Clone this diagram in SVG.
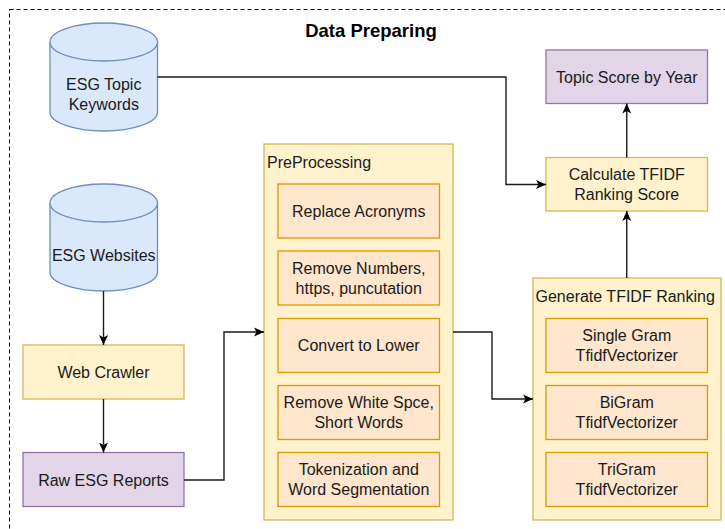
<svg xmlns="http://www.w3.org/2000/svg" width="725" height="529" viewBox="0 0 725 529">
<style>
  text { font-family: "Liberation Sans", Arial, Helvetica, sans-serif; font-size: 16px; fill: #1a1a1a; }
  .c { text-anchor: middle; }
  .title { font-size: 18.5px; font-weight: bold; fill: #000; }
  .cyl { fill: #dae8fc; stroke: #6c8ebf; stroke-width: 1.3; }
  .yel { fill: #fff2cc; stroke: #d6b656; stroke-width: 1.3; }
  .org { fill: #ffe6cc; stroke: #d79b00; stroke-width: 1.3; }
  .pur { fill: #e1d5e7; stroke: #9673a6; stroke-width: 1.3; }
  .edge { fill: none; stroke: #1a1a1a; stroke-width: 1.4; marker-end: url(#arr); }
</style>
<defs>
  <marker id="arr" markerUnits="userSpaceOnUse" markerWidth="11" markerHeight="10" refX="10" refY="5" orient="auto">
    <path d="M0,0.5 L10,5 L0,9.5 L2.5,5 Z" fill="#000"/>
  </marker>
</defs>
<rect x="9.5" y="9.5" width="760" height="560" fill="none" stroke="#000" stroke-width="1" stroke-dasharray="4,3"/>
<text class="title c" x="371" y="37">Data Preparing</text>

<g id="esg-topic-keywords">
  <path class="cyl" d="M50,42 A53.75,19 0 0 1 157.5,42 V112 A53.75,19 0 0 1 50,112 Z"/>
  <path class="cyl" fill="none" d="M50,42 A53.75,19 0 0 0 157.5,42"/>
  <text class="c" x="103.75" y="89.5">ESG Topic</text>
  <text class="c" x="103.75" y="109.5">Keywords</text>
</g>
<g id="esg-websites">
  <path class="cyl" d="M50,203 A53.75,19 0 0 1 157.5,203 V272 A53.75,19 0 0 1 50,272 Z"/>
  <path class="cyl" fill="none" d="M50,203 A53.75,19 0 0 0 157.5,203"/>
  <text class="c" x="103.75" y="260.5">ESG Websites</text>
</g>
<g id="web-crawler">
  <rect class="yel" x="23" y="345" width="161" height="54"/>
  <text class="c" x="103.5" y="377.5">Web Crawler</text>
</g>
<g id="raw-esg-reports">
  <rect class="pur" x="23" y="452.5" width="161" height="54"/>
  <text class="c" x="103.5" y="485.5">Raw ESG Reports</text>
</g>

<g id="preprocessing">
  <rect class="yel" x="264" y="144" width="189" height="376"/>
  <text x="267" y="168">PreProcessing</text>
</g>
<g id="replace-acronyms">
  <rect class="org" x="278" y="184" width="161.5" height="54"/>
  <text class="c" x="358.75" y="216.5">Replace Acronyms</text>
</g>
<g id="remove-numbers">
  <rect class="org" x="278" y="251" width="161.5" height="54"/>
  <text class="c" x="358.75" y="273.5">Remove Numbers,</text>
  <text class="c" x="358.75" y="293.5">https, puncutation</text>
</g>
<g id="convert-lower">
  <rect class="org" x="278" y="318.5" width="161.5" height="54"/>
  <text class="c" x="358.75" y="351">Convert to Lower</text>
</g>
<g id="remove-white">
  <rect class="org" x="278" y="385.5" width="161.5" height="54"/>
  <text class="c" x="358.75" y="408">Remove White Spce,</text>
  <text class="c" x="358.75" y="428">Short Words</text>
</g>
<g id="tokenization">
  <rect class="org" x="278" y="452.5" width="161.5" height="54"/>
  <text class="c" x="358.75" y="475">Tokenization and</text>
  <text class="c" x="358.75" y="495">Word Segmentation</text>
</g>

<g id="topic-score">
  <rect class="pur" x="546" y="50" width="161.5" height="53.5"/>
  <text class="c" x="626.75" y="82.5">Topic Score by Year</text>
</g>
<g id="calculate-tfidf">
  <rect class="yel" x="546" y="157.5" width="161.5" height="53.5"/>
  <text class="c" x="626.75" y="180">Calculate TFIDF</text>
  <text class="c" x="626.75" y="200">Ranking Score</text>
</g>
<g id="generate-tfidf">
  <rect class="yel" x="533" y="278" width="188" height="242"/>
  <text x="535.5" y="301.5">Generate TFIDF Ranking</text>
</g>
<g id="single-gram">
  <rect class="org" x="546" y="318.5" width="161.5" height="54"/>
  <text class="c" x="626.75" y="341">Single Gram</text>
  <text class="c" x="626.75" y="361">TfidfVectorizer</text>
</g>
<g id="bigram">
  <rect class="org" x="546" y="385.5" width="161.5" height="54"/>
  <text class="c" x="626.75" y="408">BiGram</text>
  <text class="c" x="626.75" y="428">TfidfVectorizer</text>
</g>
<g id="trigram">
  <rect class="org" x="546" y="452.5" width="161.5" height="54"/>
  <text class="c" x="626.75" y="475">TriGram</text>
  <text class="c" x="626.75" y="495">TfidfVectorizer</text>
</g>

<g id="connectors">
  <path class="edge" d="M157.5,77 H506 V184.5 H546"/>
  <path class="edge" d="M103.5,291 V345"/>
  <path class="edge" d="M103.5,399 V452.5"/>
  <path class="edge" d="M184,480 H224 V332 H264"/>
  <path class="edge" d="M453,332 H492 V399 H533"/>
  <path class="edge" d="M626.75,278 V211"/>
  <path class="edge" d="M626.75,157.5 V103.5"/>
</g>
</svg>
